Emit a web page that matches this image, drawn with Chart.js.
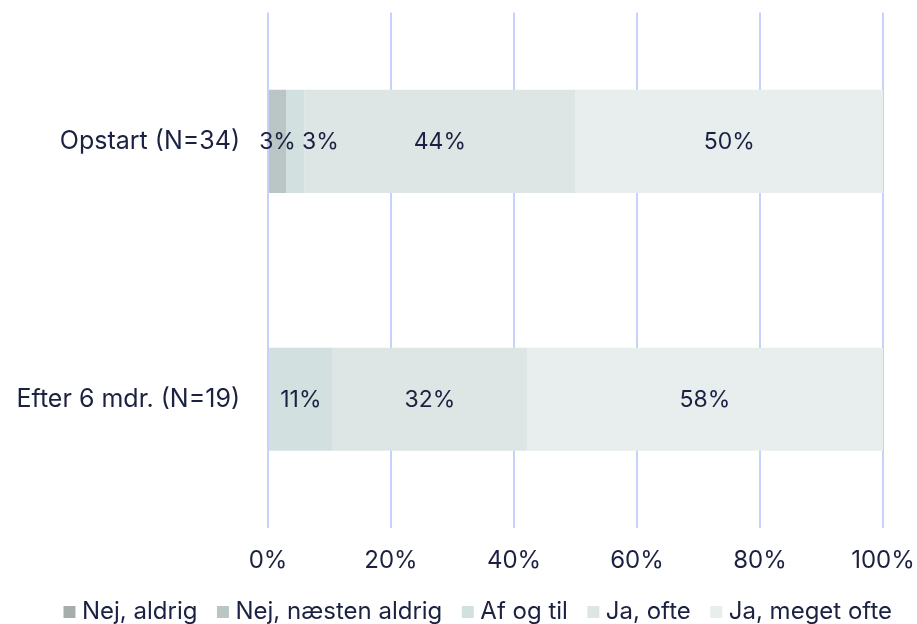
<!DOCTYPE html>
<html>
<head>
<meta charset="utf-8">
<script src="https://cdn.jsdelivr.net/npm/chart.js@4"></script>
<style>
  html, body { margin: 0; padding: 0; background: #ffffff; }
  #wrap { position: relative; width: 917px; height: 624px; }
</style>
</head>
<body>
<div id="wrap"><canvas id="c" width="917" height="624"></canvas></div>
<script>
// ---- data ----
const categories = ['Opstart (N=34)', 'Efter 6 mdr. (N=19)'];
const seriesNames = ['Nej, aldrig', 'Nej, næsten aldrig', 'Af og til', 'Ja, ofte', 'Ja, meget ofte'];
const nejAldrig        = [0, 0];
const nejNaestenAldrig = [2.94, 0];
const afOgTil          = [2.94, 10.53];
const jaOfte           = [44.12, 31.58];
const jaMegetOfte      = [50.00, 57.89];
const xTickValues = [0, 20, 40, 60, 80, 100];

// ---- style ----
const seriesColors = ['#a6aeab', '#bac6c5', '#d3e0e0', '#dde6e5', '#e7eeed'];
const textColor = '#1b2140';
const gridColor = '#c5d2fc';
const FONT = 'Inter';

const seriesValues = [nejAldrig, nejNaestenAldrig, afOgTil, jaOfte, jaMegetOfte];

const segLabels = {
  id: 'segLabels',
  afterDatasetsDraw(chart) {
    const ctx = chart.ctx;
    ctx.save();
    ctx.font = '23px ' + FONT;
    ctx.fillStyle = textColor;
    ctx.textBaseline = 'middle';
    ctx.textAlign = 'center';
    const gap = 6;
    chart.data.labels.forEach((_, i) => {
      let prevRight = -Infinity;
      chart.data.datasets.forEach((ds, d) => {
        const v = ds.data[i];
        if (!v) return;
        const el = chart.getDatasetMeta(d).data[i];
        const left = Math.min(el.x, el.base), right = Math.max(el.x, el.base);
        const text = Math.round(v) + '%';
        const w = ctx.measureText(text).width;
        let cx = (left + right) / 2;
        if (cx - w / 2 < prevRight + gap) cx = prevRight + gap + w / 2;
        ctx.fillText(text, cx, el.y + 1);
        prevRight = cx + w / 2;
      });
    });
    ctx.restore();
  }
};

new Chart(document.getElementById('c'), {
  type: 'bar',
  data: {
    labels: categories,
    datasets: seriesNames.map((name, k) => ({
      label: name,
      data: seriesValues[k],
      backgroundColor: seriesColors[k],
      borderWidth: 0,
      categoryPercentage: 0.8,
      barPercentage: 0.5
    }))
  },
  options: {
    indexAxis: 'y',
    responsive: false,
    animation: false,
    layout: { padding: { top: 12, right: 0, left: 0, bottom: -10 } },
    scales: {
      x: {
        stacked: true,
        min: 0, max: 100,
        afterBuildTicks(scale) { scale.ticks = xTickValues.map(v => ({ value: v })); },
        afterFit(scale) { scale.paddingRight = 34; },
        ticks: {
          color: textColor,
          font: { family: FONT, size: 24 },
          padding: 0,
          callback: v => v + '%'
        },
        grid: { color: gridColor, lineWidth: 2, drawTicks: true, tickLength: 18, tickColor: 'rgba(0,0,0,0)' },
        border: { display: false }
      },
      y: {
        stacked: true,
        afterFit(scale) { scale.width = 268; },
        ticks: {
          color: textColor,
          font: { family: FONT, size: 25, lineHeight: 1 },
          padding: 0
        },
        grid: { display: false, drawTicks: true, tickLength: 28 },
        border: { display: false }
      }
    },
    plugins: {
      legend: {
        position: 'bottom',
        align: 'end',
        labels: {
          color: textColor,
          font: { family: FONT, size: 24 },
          usePointStyle: true,
          pointStyle: 'rect',
          boxWidth: 1,
          boxHeight: 12,
          padding: 25
        }
      },
      tooltip: { enabled: false }
    }
  },
  plugins: [segLabels]
});
</script>
</body>
</html>
